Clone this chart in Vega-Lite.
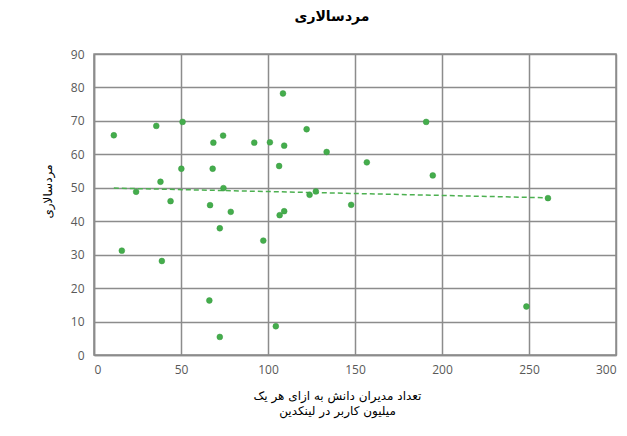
{
  "$schema": "https://vega.github.io/schema/vega-lite/v6.json",
  "width": 522,
  "height": 301,
  "autosize": {"type": "none"},
  "padding": {"left": 94, "top": 54, "right": 11, "bottom": 81},
  "background": "white",
  "title": {
    "text": "مردسالاری",
    "font": "DejaVu Sans",
    "fontSize": 14,
    "fontWeight": "bold",
    "color": "#000000",
    "anchor": "middle",
    "frame": "group",
    "dx": -23,
    "offset": 24
  },
  "config": {
    "view": {"stroke": "#8c8c8c", "strokeWidth": 1.5},
    "axis": {
      "grid": true,
      "gridColor": "#8c8c8c",
      "gridWidth": 1.5,
      "gridOpacity": 1,
      "domainColor": "#8c8c8c",
      "domainWidth": 1.5,
      "ticks": false,
      "labelFont": "Open Sans",
      "labelFontSize": 12,
      "labelColor": "#595959",
      "labelOverlap": false,
      "titleFont": "DejaVu Sans",
      "titleFontSize": 12,
      "titleFontWeight": "normal",
      "titleColor": "#000000"
    }
  },
  "datasets": {
    "points": [
      {"x": 11.4, "y": 65.7},
      {"x": 35.8, "y": 68.5},
      {"x": 50.9, "y": 69.7},
      {"x": 68.6, "y": 63.5},
      {"x": 74.2, "y": 65.6},
      {"x": 92.1, "y": 63.5},
      {"x": 101.1, "y": 63.6},
      {"x": 50.2, "y": 55.7},
      {"x": 68.2, "y": 55.7},
      {"x": 38.2, "y": 51.8},
      {"x": 74.4, "y": 49.9},
      {"x": 24.2, "y": 48.8},
      {"x": 44.0, "y": 46.0},
      {"x": 66.7, "y": 44.8},
      {"x": 78.6, "y": 42.8},
      {"x": 72.3, "y": 37.9},
      {"x": 97.3, "y": 34.2},
      {"x": 16.0, "y": 31.2},
      {"x": 39.0, "y": 28.1},
      {"x": 66.3, "y": 16.3},
      {"x": 72.3, "y": 5.4},
      {"x": 104.5, "y": 8.6},
      {"x": 108.6, "y": 78.2},
      {"x": 190.9, "y": 69.7},
      {"x": 122.2, "y": 67.5},
      {"x": 109.3, "y": 62.6},
      {"x": 133.7, "y": 60.7},
      {"x": 156.8, "y": 57.6},
      {"x": 106.4, "y": 56.5},
      {"x": 194.7, "y": 53.7},
      {"x": 127.5, "y": 48.9},
      {"x": 123.9, "y": 47.9},
      {"x": 147.8, "y": 44.9},
      {"x": 109.3, "y": 43.0},
      {"x": 106.7, "y": 41.8},
      {"x": 260.9, "y": 46.9},
      {"x": 248.5, "y": 14.5}
    ],
    "trend": [
      {"x": 11.4, "y": 49.9},
      {"x": 260.9, "y": 47.0}
    ]
  },
  "encoding": {
    "x": {
      "field": "x",
      "type": "quantitative",
      "scale": {"domain": [0, 300], "nice": false},
      "axis": {
        "values": [0, 50, 100, 150, 200, 250, 300],
        "labelPadding": 9,
        "title": ["تعداد مدیران دانش به ازای هر یک", "میلیون کاربر در لینکدین"],
        "titleX": 243,
        "titleY": 35,
        "titleBaseline": "top",
        "titleAnchor": "middle",
        "titleLineHeight": 15
      }
    },
    "y": {
      "field": "y",
      "type": "quantitative",
      "scale": {"domain": [0, 90], "nice": false},
      "axis": {
        "values": [0, 10, 20, 30, 40, 50, 60, 70, 80, 90],
        "labelPadding": 10,
        "title": "مردسالاری",
        "titleX": -47,
        "titleY": 137,
        "titleAngle": 270,
        "titleBaseline": "middle",
        "titleAlign": "center"
      }
    }
  },
  "layer": [
    {
      "data": {"name": "trend"},
      "mark": {"type": "line", "color": "#4cb050", "strokeWidth": 1.5, "strokeDash": [5, 3]}
    },
    {
      "data": {"name": "points"},
      "mark": {"type": "circle", "size": 34, "fill": "#44ad4c", "opacity": 1, "stroke": "#3a9a42", "strokeWidth": 0.5}
    }
  ]
}
